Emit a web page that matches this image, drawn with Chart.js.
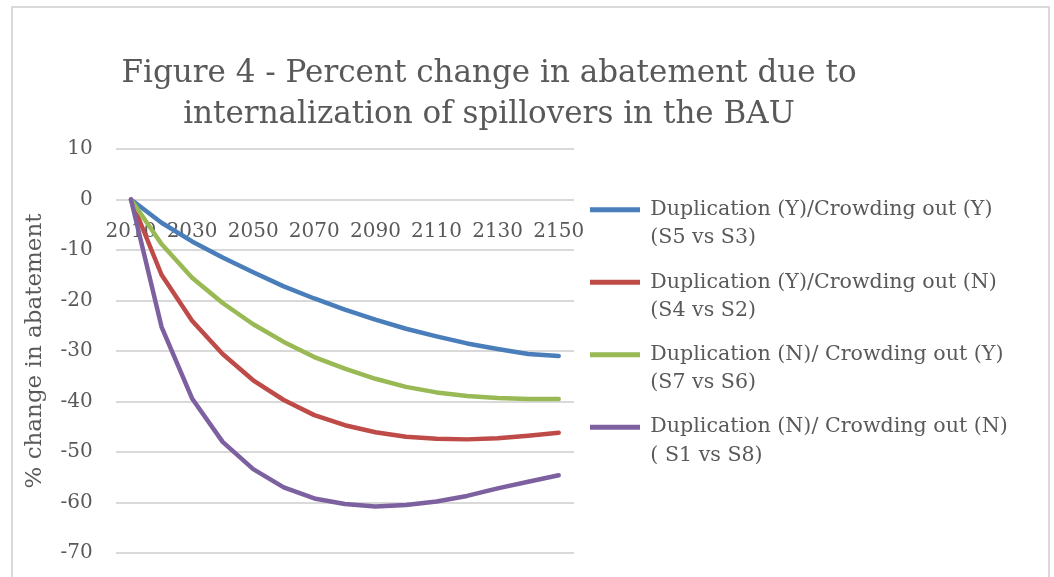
<!DOCTYPE html>
<html>
<head>
<meta charset="utf-8">
<script src="https://cdn.jsdelivr.net/npm/chart.js@4/dist/chart.umd.min.js"></script>
<style>
  html, body { margin: 0; padding: 0; background: #ffffff; }
  #wrap { width: 1054px; height: 577px; position: relative; }
</style>
</head>
<body>
<div id="wrap"><canvas id="c"></canvas></div>
<script>
// ---- data ----
const years = ['2010','2020','2030','2040','2050','2060','2070','2080','2090','2100','2110','2120','2130','2140','2150'];
const dupYcrowdY = [0, -4.6, -8.3, -11.5, -14.4, -17.2, -19.6, -21.8, -23.8, -25.6, -27.1, -28.5, -29.6, -30.6, -31.0];
const dupYcrowdN = [0, -14.9, -24.0, -30.6, -35.8, -39.7, -42.7, -44.7, -46.1, -47.0, -47.4, -47.5, -47.3, -46.8, -46.2];
const dupNcrowdY = [0, -8.8, -15.5, -20.5, -24.7, -28.2, -31.2, -33.5, -35.5, -37.1, -38.2, -38.9, -39.3, -39.5, -39.5];
const dupNcrowdN = [0, -25.2, -39.4, -48.0, -53.4, -57.0, -59.2, -60.3, -60.8, -60.5, -59.8, -58.7, -57.2, -55.9, -54.6];
const seriesNames = [
  'Duplication (Y)/Crowding out (Y)\n(S5 vs S3)',
  'Duplication (Y)/Crowding out (N)\n(S4 vs S2)',
  'Duplication (N)/ Crowding out (Y)\n(S7 vs S6)',
  'Duplication (N)/ Crowding out (N)\n( S1 vs S8)'
];
const titleLines = ['Figure 4 - Percent change in abatement due to', 'internalization of spillovers in the BAU'];
const yAxisTitle = '% change in abatement';

// ---- styles ----
const FONT = "'DejaVu Serif', 'Liberation Serif', serif";
const TXT = '#595959';
const colors = ['#4A7EBB', '#BE4B48', '#98B954', '#7D60A0'];
const seriesValues = [dupYcrowdY, dupYcrowdN, dupNcrowdY, dupNcrowdN];

const frameAndTitle = {
  id: 'frameAndTitle',
  afterLayout(chart) {
    // let legend text run past the legend box without being clipped
    if (chart.legend) {
      chart.legend.right = chart.width;
      chart.legend.width = chart.legend.right - chart.legend.left;
    }
  },
  beforeDraw(chart) {
    const ctx = chart.ctx;
    ctx.save();
    ctx.fillStyle = '#ffffff';
    ctx.fillRect(0, 0, chart.width, chart.height);
    ctx.strokeStyle = '#d9d9d9';
    ctx.lineWidth = 2;
    ctx.strokeRect(12, 7, 1037, 640);
    ctx.restore();
  },
  afterDraw(chart) {
    const ctx = chart.ctx;
    ctx.save();
    ctx.fillStyle = TXT;
    ctx.font = "31px " + FONT;
    ctx.textAlign = 'center';
    ctx.textBaseline = 'alphabetic';
    ctx.fillText(titleLines[0], 489, 82);
    ctx.fillText(titleLines[1], 489, 123);
    ctx.restore();
  }
};

new Chart(document.getElementById('c'), {
  type: 'line',
  data: {
    labels: years,
    datasets: seriesValues.map((vals, i) => ({
      label: seriesNames[i],
      data: vals,
      borderColor: colors[i],
      backgroundColor: colors[i],
      borderWidth: 4.5,
      pointRadius: 0,
      pointHoverRadius: 0,
      tension: 0,
      fill: false,
      borderCapStyle: 'round',
      borderJoinStyle: 'round',
      order: 3 - i
    }))
  },
  options: {
    responsive: true,
    maintainAspectRatio: false,
    animation: false,
    devicePixelRatio: 1,
    layout: { padding: { top: 149, left: 19.4, right: 60, bottom: 24 } },
    plugins: {
      tooltip: { enabled: false },
      title: { display: false },
      legend: {
        display: true,
        position: 'right',
        align: 'start',
        maxWidth: 420,
        title: { display: true, text: ' ', font: { size: 10, lineHeight: 1.25 }, padding: { top: 22, bottom: 0 } },
        labels: {
          boxWidth: 50,
          boxHeight: 5,
          padding: 16,
          color: TXT,
          font: { family: FONT, size: 20.6, lineHeight: 1.37 },
          generateLabels: (chart) => chart.data.datasets.map((ds, i) => ({
            text: ds.label.split('\n'),
            fillStyle: ds.borderColor,
            strokeStyle: ds.borderColor,
            lineWidth: 0,
            hidden: false,
            datasetIndex: i,
            fontColor: TXT
          }))
        }
      }
    },
    scales: {
      x: {
        type: 'category',
        position: { y: 0 },
        offset: true,
        grid: { display: false, drawTicks: true, tickLength: 20, tickColor: 'rgba(0,0,0,0)' },
        border: { display: false },
        ticks: {
          autoSkip: false,
          maxRotation: 0,
          minRotation: 0,
          padding: 0,
          color: TXT,
          font: { family: FONT, size: 20 },
          callback: function(value, index) { return index % 2 === 0 ? this.getLabelForValue(value) : ''; }
        }
      },
      y: {
        type: 'linear',
        position: 'left',
        min: -70,
        max: 10,
        afterFit: (scale) => { scale.width = 96.3; scale.paddingBottom = 0; scale.paddingTop = 0; },
        grid: { color: '#d9d9d9', lineWidth: 2, drawTicks: false },
        border: { display: false },
        ticks: {
          stepSize: 10,
          padding: 23,
          color: TXT,
          font: { family: FONT, size: 20 }
        },
        title: {
          display: true,
          text: yAxisTitle,
          color: TXT,
          font: { family: FONT, size: 23, lineHeight: 1.2 },
          padding: { top: 1.8, bottom: 0 }
        }
      }
    }
  },
  plugins: [frameAndTitle]
});
</script>
</body>
</html>
